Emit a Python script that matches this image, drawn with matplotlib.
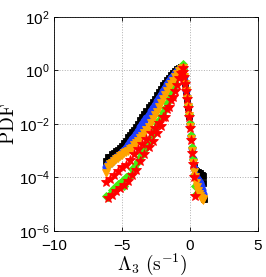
import numpy as np
import matplotlib
matplotlib.use("Agg")
import matplotlib.pyplot as plt

plt.rcParams['font.family'] = ['Liberation Sans', 'DejaVu Sans']
plt.rcParams['mathtext.fontset'] = 'cm'

# bin centres (left branch, then right branch)
x_left = [-6.2, -6.05, -5.9, -5.75, -5.6, -5.45, -5.3, -5.15, -5.0, -4.85, -4.7, -4.55,
          -4.4, -4.25, -4.1, -3.95, -3.8, -3.65, -3.5, -3.35, -3.2, -3.05, -2.9, -2.75,
          -2.6, -2.45, -2.3, -2.15, -2.0, -1.85, -1.7, -1.55, -1.4, -1.25, -1.1, -0.95,
          -0.8, -0.65]
x_right = [-0.55, -0.48, -0.41, -0.34, -0.27, -0.2, -0.13, -0.06, 0.01, 0.08, 0.15, 0.22,
           0.29, 0.36, 0.43, 0.5, 0.57, 0.64, 0.71, 0.78, 0.85, 0.92, 0.99, 1.06]

nan = float('nan')

# log10(PDF) values
black_left = [-3.38, -3.25, -3.22, -3.12, -3.08, -3.0, -2.98, -2.9, -2.84, -2.72, -2.64, -2.5,
              -2.42, -2.3, -2.22, -2.1, -2.0, -1.86, -1.75, -1.62, -1.52, -1.38, -1.3, -1.17,
              -1.05, -0.93, -0.8, -0.68, -0.56, -0.46, -0.36, -0.27, -0.18, -0.1, -0.03, 0.04,
              0.09, 0.13]
black_right = [0.13, 0.0, -0.22, -0.48, -0.75, -1.05, -1.35, -1.7, -2.05, -2.5, -2.95, -3.35,
               -3.6, -3.72, -3.75, -3.8, -3.8, -3.85, -3.85, -3.9, -3.9, -3.95, -4.2, -4.8]

blue_left = [-3.6, -3.5, -3.45, -3.38, -3.3, -3.25, -3.18, -3.12, -3.05, -2.97, -2.88, -2.78,
             -2.68, -2.57, -2.47, -2.36, -2.25, -2.13, -2.02, -1.9, -1.78, -1.65, -1.52, -1.4,
             -1.28, -1.16, -1.04, -0.92, -0.78, -0.65, -0.52, -0.4, -0.29, -0.19, -0.1, -0.02,
             0.05, 0.1]
blue_right = [0.14, 0.02, -0.2, -0.45, -0.72, -1.0, -1.3, -1.65, -2.0, -2.45, -2.9, -3.3,
              -3.65, -3.9, -4.0, -4.05, -4.1, -4.15, -4.2, -4.3, -4.45, -4.6, nan, nan]

green_left = [-4.7, -4.72, -4.62, -4.45, -4.4, -4.3, -4.25, -4.2, -4.12, -4.3, -4.0, -3.95,
              -3.95, -3.7, -3.62, -3.5, -3.38, -3.25, -3.12, -2.98, -2.85, -2.7, -2.5, -2.32,
              -2.17, -2.02, -1.87, -1.72, -1.56, -1.4, -1.22, -1.04, -0.85, -0.66, -0.46, -0.26,
              -0.05, 0.14]
green_right = [0.25, 0.05, -0.18, -0.42, -0.7, -0.98, -1.28, -1.62, -1.98, -2.42, -2.85, -3.3,
               -3.9, -4.3, -4.6, nan, nan, nan, nan, nan, nan, nan, nan, nan]

orange_left = [-3.85, -3.6, -3.5, -3.45, -3.38, -3.32, -3.26, -3.2, -3.15, -3.1, -3.05, -3.0,
               -2.95, -2.88, -2.8, -2.72, -2.63, -2.54, -2.44, -2.34, -2.23, -2.1, -1.96, -1.82,
               -1.68, -1.54, -1.38, -1.22, -1.05, -0.9, -0.76, -0.63, -0.5, -0.38, -0.26, -0.15,
               -0.04, 0.05]
orange_right = [0.1, 0.0, -0.24, -0.5, -0.76, -1.05, -1.38, -1.72, -2.1, -2.55, -3.0, -3.45,
                -3.8, -4.0, -4.2, -4.35, -4.5, -4.6, -4.7, -4.75, -4.8, -4.8, -4.85, nan]

red_left = [-4.15, -4.75, -4.05, -4.67, -3.9, -4.52, -3.75, -4.38, -3.62, -4.27, -3.52, -4.13,
            -3.33, -3.92, -3.12, -3.72, -2.95, -3.37, -2.75, -3.13, -2.55, -2.87, -2.33, -2.62,
            -2.15, -2.33, -1.97, -2.06, -1.74, -1.73, -1.45, -1.38, -1.11, -1.01, -0.77, -0.55,
            -0.3, -0.08]
red_right = [0.08, -0.05, -0.25, -0.5, -0.78, -1.08, -1.4, -1.75, -2.15, -2.6, -3.1, -3.5,
             -4.0, -4.7, nan, nan, nan, nan, nan, nan, nan, nan, nan, nan]

series = [
    ("black", black_left, black_right, 's', 4.6),
    ("#1f3dff", blue_left, blue_right, 'o', 5.2),
    ("#44ee11", green_left, green_right, 'D', 4.4),
    ("#ffa200", orange_left, orange_right, 'v', 6.0),
    ("#ff0000", red_left, red_right, '*', 7.2),
]

fig = plt.figure(figsize=(2.66, 2.77), dpi=100)
ax = fig.add_axes([0.203, 0.166, 0.767, 0.773])

x_all = np.array(x_left + x_right)
for color, left, right, marker, ms in series:
    y = 10.0 ** np.array(left + right)
    ax.plot(x_all, y, linestyle='none', marker=marker, color=color,
            markersize=ms, markeredgewidth=0.6, markeredgecolor=color)

ax.set_yscale('log')
ax.set_xlim(-10, 5)
ax.set_ylim(1e-6, 1e2)
ax.set_xticks([-10, -5, 0, 5])
ax.set_xticklabels(['\u221210', '\u22125', '0', '5'])
ax.set_yticks([1e-6, 1e-4, 1e-2, 1e0, 1e2])
ax.set_yticklabels([r'$\mathdefault{10^{-6}}$', r'$\mathdefault{10^{-4}}$',
                    r'$\mathdefault{10^{-2}}$', r'$\mathdefault{10^{0}}$',
                    r'$\mathdefault{10^{2}}$'])
ax.minorticks_off()
ax.tick_params(direction='in', length=3, width=0.6, labelsize=11,
               top=True, right=True)
ax.tick_params(axis='x', pad=6)
ax.tick_params(axis='y', pad=3)
ax.grid(True, which='major', linestyle=':', color='#b0b0b0', linewidth=0.7)
for s in ax.spines.values():
    s.set_linewidth(0.6)

ax.set_ylabel(r'$\mathrm{PDF}$', fontsize=14)
ax.yaxis.set_label_coords(-0.178, 0.5)
ax.set_xlabel(r'$\Lambda_3\ (\mathrm{s}^{-1})$', fontsize=14)
ax.xaxis.set_label_coords(0.48, -0.098)

fig.savefig('out.png', dpi=100)
